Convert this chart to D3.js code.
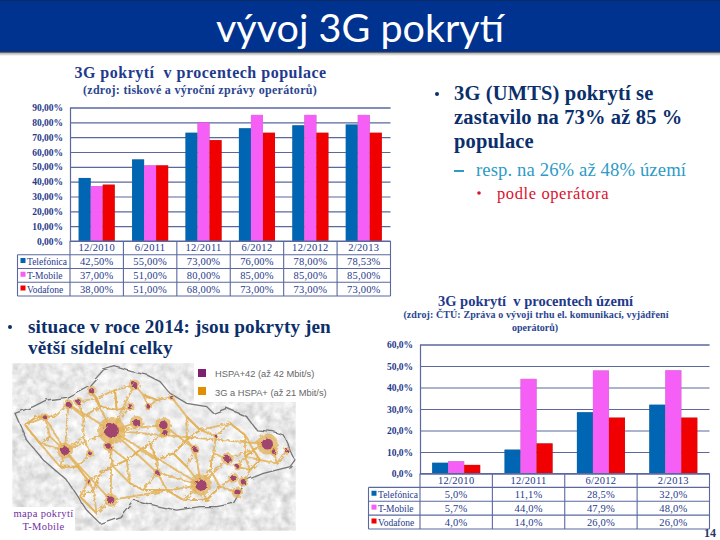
<!DOCTYPE html>
<html>
<head>
<meta charset="utf-8">
<script src="https://cdn.jsdelivr.net/npm/d3@7"></script>
<style>
  html, body { margin: 0; padding: 0; background: #fff; }
  svg { display: block; }
  text { font-family: "Liberation Serif", serif; white-space: pre; }
</style>
</head>
<body>
<svg id="slide" width="720" height="540"></svg>
<script>
// Operators, same in both charts
const operators = ["Telefónica", "T-Mobile", "Vodafone"];
const operatorColors = ["#0066b3", "#f65ff5", "#f00000"];

// 3G coverage in % of population
const popDates = ["12/2010", "6/2011", "12/2011", "6/2012", "12/2012", "2/2013"];
const popTelefonica = [42.5, 55, 73, 76, 78, 78.53];
const popTMobile = [37, 51, 80, 85, 85, 85];
const popVodafone = [38, 51, 68, 73, 73, 73];
const popTicks = [0, 10, 20, 30, 40, 50, 60, 70, 80, 90];

// 3G coverage in % of territory
const areaDates = ["12/2010", "12/2011", "6/2012", "2/2013"];
const areaTelefonica = [5, 11.1, 28.5, 32];
const areaTMobile = [5.7, 44, 47.9, 48];
const areaVodafone = [4, 14, 26, 26];
const areaTicks = [0, 10, 20, 30, 40, 50, 60];

// Rough trace of the coverage map, in units of the source picture
const mapBorder = [[45,310],[100,290],[140,270],[200,262],[270,225],[310,180],[345,170],[395,185],[440,195],[480,215],[510,250],[560,280],[620,290],[640,310],[680,295],[740,320],[770,360],[820,365],[850,375],[885,450],[870,470],[790,490],[740,510],[700,580],[650,590],[600,590],[530,600],[480,590],[400,570],[360,620],[300,640],[260,600],[200,510],[130,450],[80,390]];
const mapCities = [[335,362,22],[195,422,13],[332,570,11],[603,525,17],[802,402,17],[403,225,9],[275,243,8],[135,322,6],[205,283,8],[490,345,13],[495,368,8],[682,447,10],[712,547,9],[472,488,7],[410,338,11],[235,275,7],[860,422,5],[822,425,7],[700,503,8],[712,470,6],[730,515,8],[515,262,5],[265,513,5],[390,290,7],[445,290,6],[325,408,8],[270,430,6],[585,418,7],[648,378,4]];
const mapTowns = [[75,345],[110,320],[165,320],[250,320],[300,290],[290,265],[345,240],[350,300],[430,255],[470,270],[560,320],[600,360],[690,340],[735,375],[760,420],[780,450],[735,440],[640,430],[560,470],[520,430],[420,420],[380,450],[340,470],[250,380],[150,380],[120,400],[180,470],[235,470],[280,540],[300,490],[390,520],[430,540],[500,540],[550,570],[620,570],[660,530],[750,480],[830,460],[450,400],[560,390],[240,560],[290,610],[470,450],[630,480]];
const mapRoads = [[0,1],[0,2],[0,3],[0,4],[0,5],[0,6],[0,8],[0,9],[0,14],[0,25],[0,23],[1,7],[1,22],[1,2],[1,8],[2,3],[3,11],[3,13],[4,11],[9,27],[13,0],[27,3]];

const navy = "#0b2f6b";
const chartBlue = "#1f3a8c";
const tableLine = "#5a689f";
const svg = d3.select("#slide");

// Header band
const defs = svg.append("defs");
const shadow = defs.append("linearGradient").attr("id", "headShadow").attr("x2", 0).attr("y2", 1);
shadow.append("stop").attr("offset", 0).attr("stop-color", "#777");
shadow.append("stop").attr("offset", 1).attr("stop-color", "#fff");
svg.append("rect").attr("y", 51).attr("width", 720).attr("height", 5).attr("fill", "url(#headShadow)");
svg.append("rect").attr("width", 720).attr("height", 52).attr("fill", "#00338f");
svg.append("rect").attr("width", 720).attr("height", 1).attr("fill", "#0b2a63");
svg.append("rect").attr("y", 51).attr("width", 720).attr("height", 1.5).attr("fill", "#20355e");
svg.append("text").attr("x", 360).attr("y", 41.5).attr("text-anchor", "middle")
  .style("font-family", "Lato").style("font-size", "39.5px").attr("fill", "#fff").text("vývoj 3G pokrytí");

function label(x, y, str, size, color, opts = {}) {
  return svg.append("text").attr("x", x).attr("y", y).text(str)
    .attr("text-anchor", opts.anchor || "start").attr("fill", color)
    .style("font-size", size + "px").style("font-weight", opts.weight || "normal")
    .style("letter-spacing", (opts.spacing || 0) + "px");
}

// Bars plus the data table under them
function drawChart(c) {
  const g = svg.append("g");
  const x = d3.scaleBand().domain(c.dates).range([c.left, c.right]);
  const y = d3.scaleLinear().domain([0, d3.max(c.ticks)]).range([c.bottom, c.top]);
  const inner = d3.scaleBand().domain(operators).range([0, x.bandwidth()]).paddingOuter(c.outer).paddingInner(0);
  const axisFormat = d3.format(c.tickFormat);

  const axis = g.append("g").attr("transform", `translate(${c.left},0)`)
    .call(d3.axisLeft(y).tickValues(c.ticks).tickSize(-(c.right - c.left)).tickPadding(7)
      .tickFormat(d => axisFormat(d).replace(".", ",") + "%"));
  axis.select(".domain").attr("stroke", tableLine).attr("stroke-width", 1.2);
  axis.selectAll("line").attr("stroke", tableLine).attr("stroke-width", 1.2);
  axis.selectAll("text").attr("fill", chartBlue).style("font-size", c.tickSize + "px")
    .style("font-family", "Liberation Serif").style("font-weight", "bold");

  c.series.forEach((values, i) => {
    g.append("g").selectAll("rect").data(values).join("rect")
      .attr("x", (d, j) => x(c.dates[j]) + inner(operators[i]))
      .attr("y", d => y(d))
      .attr("width", inner.bandwidth())
      .attr("height", d => y(0) - y(d))
      .attr("fill", operatorColors[i])
      .style("filter", "drop-shadow(0.6px 0 0.6px rgba(70,70,70,.55))");
  });

  // table grid
  const rowH = (c.tableBottom - c.bottom) / 4;
  const rowY = d3.range(5).map(i => c.bottom + i * rowH);
  const table = g.append("g").attr("stroke", tableLine).attr("stroke-width", 1.1);
  rowY.forEach((ry, i) => {
    table.append("line").attr("x1", i === 0 ? c.left : c.tableLeft).attr("x2", c.right).attr("y1", ry).attr("y2", ry);
  });
  table.selectAll(".col").data(c.dates.map(d => x(d)).concat(c.right)).join("line")
    .attr("x1", d => d).attr("x2", d => d).attr("y1", c.bottom).attr("y2", c.tableBottom);
  table.append("line").attr("x1", c.tableLeft).attr("x2", c.tableLeft).attr("y1", rowY[1]).attr("y2", c.tableBottom);

  // header row
  c.dates.forEach(d => {
    label(x(d) + x.bandwidth() / 2, rowY[0] + rowH - 3.5, d, 10.5, chartBlue, { anchor: "middle", spacing: 0.3 });
  });
  // value rows with the legend keys
  c.series.forEach((values, i) => {
    const base = rowY[i + 1] + rowH - 3.5;
    g.append("rect").attr("x", c.tableLeft + 3).attr("y", base - 7).attr("width", 5).attr("height", 5)
      .attr("fill", operatorColors[i]);
    label(c.tableLeft + 9.5, base, operators[i], 9.5, chartBlue);
    values.forEach((v, j) => {
      label(x(c.dates[j]) + x.bandwidth() / 2, base, d3.format(c.valueFormat)(v).replace(".", ",") + "%", 10.5, chartBlue,
        { anchor: "middle", spacing: 0.2 });
    });
  });
}

// Chart titles
label(200.5, 78, "3G pokrytí  v procentech populace", 16, chartBlue, { anchor: "middle", weight: "bold", spacing: 0.5 });
label(200, 94, "(zdroj: tiskové a výroční zprávy operátorů)", 12, "#2a4590", { anchor: "middle", weight: "bold", spacing: 0.3 });
label(535.5, 306, "3G pokrytí  v procentech území", 14.5, chartBlue, { anchor: "middle", weight: "bold" });
label(536, 318, "(zdroj: ČTÚ: Zpráva o vývoji trhu el. komunikací, vyjádření", 10, "#2a4590", { anchor: "middle", weight: "bold", spacing: 0.1 });
label(535, 331, "operátorů)", 10, "#2a4590", { anchor: "middle", weight: "bold" });

drawChart({
  dates: popDates, series: [popTelefonica, popTMobile, popVodafone], ticks: popTicks,
  left: 70, right: 390.5, top: 107.5, bottom: 241, tableLeft: 17.5, tableBottom: 296,
  outer: 0.72, tickFormat: ".2f", valueFormat: ".2f", tickSize: 9.5
});
drawChart({
  dates: areaDates, series: [areaTelefonica, areaTMobile, areaVodafone], ticks: areaTicks,
  left: 420, right: 709.5, top: 344.5, bottom: 473.5, tableLeft: 368.5, tableBottom: 529,
  outer: 0.76, tickFormat: ".1f", valueFormat: ".1f", tickSize: 9.5
});

// Right-hand bullets
svg.append("circle").attr("cx", 437).attr("cy", 94).attr("r", 2).attr("fill", navy);
["3G (UMTS) pokrytí se", "zastavilo na 73% až 85 %", "populace"].forEach((t, i) => {
  label(454, 100 + i * 24, t, 20.5, navy, { weight: "bold", spacing: 0.15 });
});
svg.append("rect").attr("x", 454).attr("y", 170).attr("width", 10).attr("height", 2).attr("fill", "#2e9bc6");
label(476, 176, "resp. na 26% až 48% území", 18.7, "#2e9bc6", { spacing: 0.1 });
svg.append("circle").attr("cx", 479).attr("cy", 193).attr("r", 1.8).attr("fill", "#d9122e");
label(497, 199, "podle operátora", 16.5, "#d9122e", { spacing: 0.6 });

// Left bullet
svg.append("circle").attr("cx", 10).attr("cy", 327).attr("r", 2).attr("fill", navy);
label(28, 333, "situace v roce 2014: jsou pokryty jen", 19.2, navy, { weight: "bold", spacing: 0.1 });
label(28, 354, "větší sídelní celky", 19.2, navy, { weight: "bold", spacing: 0.1 });

// Coverage map, the source scale is the 3x crop of the slide
const mapX = d3.scaleLinear().domain([37, 887]).range([12.3, 295.7]);
const mapY = d3.scaleLinear().domain([160, 662]).range([363.3, 530.7]);
const mapLine = d3.line().x(d => mapX(d[0])).y(d => mapY(d[1])).curve(d3.curveLinearClosed);

defs.append("clipPath").attr("id", "mapClip").append("rect")
  .attr("x", mapX(37)).attr("y", mapY(160)).attr("width", mapX(887) - mapX(37)).attr("height", mapY(662) - mapY(160));
const relief = defs.append("filter").attr("id", "relief").attr("x", 0).attr("y", 0).attr("width", 1).attr("height", 1);
relief.append("feTurbulence").attr("type", "fractalNoise").attr("baseFrequency", 0.11).attr("numOctaves", 3).attr("seed", 4);
relief.append("feColorMatrix").attr("values", "0.4 0.4 0 0 0.4  0.4 0.4 0 0 0.4  0.4 0.4 0 0 0.4  0 0 0 0 1");
const rough = defs.append("filter").attr("id", "rough");
rough.append("feTurbulence").attr("type", "fractalNoise").attr("baseFrequency", 0.3).attr("numOctaves", 2).attr("seed", 7).attr("result", "n");
rough.append("feDisplacementMap").attr("in", "SourceGraphic").attr("in2", "n").attr("scale", 4);
// softer wobble for the state border, the strong one tears the line apart
const wobble = defs.append("filter").attr("id", "wobble");
wobble.append("feTurbulence").attr("type", "fractalNoise").attr("baseFrequency", 0.08).attr("numOctaves", 2).attr("seed", 3).attr("result", "n");
wobble.append("feDisplacementMap").attr("in", "SourceGraphic").attr("in2", "n").attr("scale", 5);

// every town hooks up to its nearest places, that gives the road mesh
const mapPlaces = mapCities.map(d => [d[0], d[1]]).concat(mapTowns);
const mapMesh = [];
mapTowns.forEach(t => {
  d3.sort(mapPlaces.filter(p => p[0] !== t[0] || p[1] !== t[1]), p => Math.hypot(p[0] - t[0], p[1] - t[1]))
    .slice(0, 3).forEach(p => mapMesh.push([t, p]));
});
mapRoads.forEach(r => mapMesh.push([mapCities[r[0]], mapCities[r[1]]]));

const map = svg.append("g").attr("clip-path", "url(#mapClip)");
map.append("rect").attr("x", mapX(37)).attr("y", mapY(160)).attr("width", mapX(887) - mapX(37)).attr("height", mapY(662) - mapY(160))
  .attr("filter", "url(#relief)");
map.append("path").attr("d", mapLine(mapBorder)).attr("fill", "#fff").attr("fill-opacity", 0.25)
  .attr("stroke", "#777").attr("stroke-width", 1.3).attr("filter", "url(#wobble)");
map.append("g").attr("filter", "url(#rough)").selectAll("line").data(mapMesh).join("line")
  .attr("x1", d => mapX(d[0][0])).attr("y1", d => mapY(d[0][1]))
  .attr("x2", d => mapX(d[1][0])).attr("y2", d => mapY(d[1][1]))
  .attr("stroke", "#e3b158").attr("stroke-width", 1.9).attr("stroke-opacity", 0.85);
map.append("g").attr("filter", "url(#rough)").selectAll("circle").data(mapCities).join("circle")
  .attr("cx", d => mapX(d[0])).attr("cy", d => mapY(d[1])).attr("r", d => d[2] * 0.62)
  .attr("fill", "#e3b158").attr("fill-opacity", 0.75);
map.append("g").attr("filter", "url(#rough)").selectAll("circle").data(mapCities).join("circle")
  .attr("cx", d => mapX(d[0])).attr("cy", d => mapY(d[1])).attr("r", d => d[2] * 0.33)
  .attr("fill", "#a0446f");

// Map legend on a white patch
svg.append("rect").attr("x", 194).attr("y", 362).attr("width", 140).attr("height", 40).attr("fill", "#fff");
svg.append("rect").attr("x", 198).attr("y", 369).attr("width", 8).attr("height", 8).attr("fill", "#7b2170");
svg.append("rect").attr("x", 198).attr("y", 387).attr("width", 8).attr("height", 8).attr("fill", "#e08f00");
["HSPA+42 (až 42 Mbit/s)", "3G a HSPA+ (až 21 Mbit/s)"].forEach((t, i) => {
  label(215, 377 + i * 18.5, t, 9.3, "#666").style("font-family", "Liberation Sans");
});

// Map caption
svg.append("rect").attr("x", 12).attr("y", 507).attr("width", 63).attr("height", 25).attr("fill", "#fff");
label(43.5, 517, "mapa pokrytí", 10.5, "#7030a0", { anchor: "middle", spacing: 0.35 });
label(43.5, 530, "T-Mobile", 10.5, "#7030a0", { anchor: "middle", spacing: 0.35 });

// Slide number
label(716, 537, "14", 12, "#1f3864", { anchor: "end", weight: "bold" });
</script>
</body>
</html>
